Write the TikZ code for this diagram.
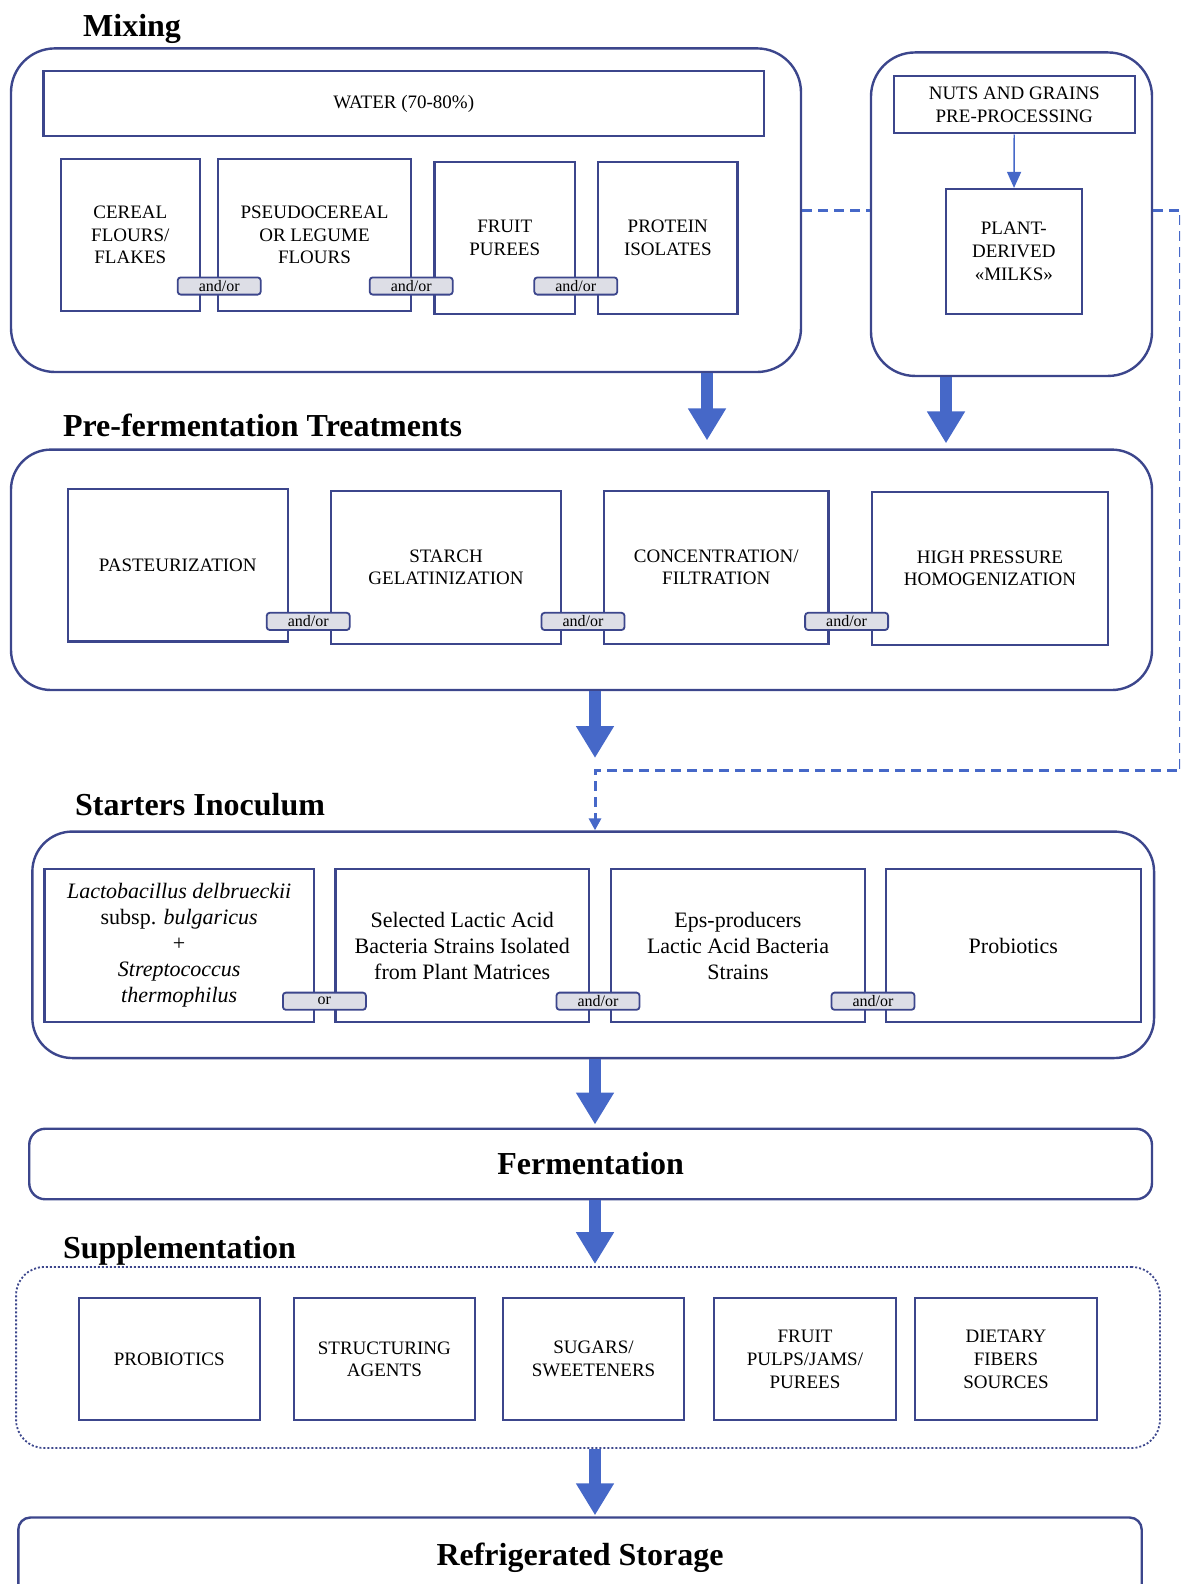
\documentclass[tikz,border=0pt]{standalone}
\usepackage{fontspec}
\setmainfont{Liberation Serif}
\usetikzlibrary{arrows.meta}
\definecolor{boxline}{RGB}{60,70,140}
\definecolor{flowblue}{RGB}{70,104,200}
\definecolor{tagfill}{RGB}{221,222,230}
\begin{document}
\begin{tikzpicture}[x=1pt,y=-1pt,
	stage/.style={draw=boxline,line width=1.2pt,rounded corners=#1},
	stage/.default=20pt,
	item/.style={draw=boxline,line width=1.1pt,fill=white,align=center,inner sep=0pt,font=\fontsize{9.5}{11.4}\selectfont},
	strain/.style={item,font=\fontsize{11}{13}\selectfont},
	tag/.style={draw=boxline,line width=0.9pt,fill=tagfill,rounded corners=1.5pt,minimum width=41.5pt,minimum height=8.6pt,inner sep=0pt,font=\fontsize{8}{8}\selectfont},
	heading/.style={font=\fontsize{16}{18}\selectfont\bfseries},
	title/.style={heading,inner sep=0pt,anchor=base west},
	flow/.style={draw=flowblue,line width=6pt,-{Triangle[width=18pt,length=16pt]}},
	link/.style={draw=flowblue,line width=1.5pt,dash pattern=on 5pt off 3pt}]
				\clip (0,0) rectangle (590,792);
				\coordinate (mixdown) at (353.5,0);
				\coordinate (plantdown) at (473,0);
				\coordinate (maindown) at (297.5,0);
				
				\node[title] (mixhead) at (41.4,18.2) {Mixing};
				\node[stage=22pt,minimum width=395pt,minimum height=161.8pt] (mix) at (203,105.1) {};
				\node[item,minimum width=360.3pt,minimum height=32.8pt] (water) at (201.85,51.8) {WATER (70-80\%)};
				\node[item,minimum width=69.7pt,minimum height=76.2pt] (cereal) at (65.15,117.4) {CEREAL\\FLOURS/\\FLAKES};
				\node[item,minimum width=96.5pt,minimum height=76.2pt] (pseudo) at (157.25,117.4) {PSEUDOCEREAL\\OR LEGUME\\FLOURS};
				\node[item,minimum width=70.3pt,minimum height=76.2pt] (fruit) at (252.35,118.9) {FRUIT\\PUREES};
				\node[item,minimum width=69.75pt,minimum height=76.2pt] (protein) at (333.9,118.9) {PROTEIN\\ISOLATES};
				\node[tag] (tagi) at (109.6,143) {and/or};
				\node[tag] (tagii) at (205.6,143) {and/or};
				\node[tag] (tagiii) at (287.9,143) {and/or};
				
				\node[stage=22pt,minimum width=140.5pt,minimum height=161.75pt] (plantbox) at (505.75,107.1) {};
				\node[item,minimum width=120.3pt,minimum height=28.8pt] (nuts) at (507.15,52.3) {NUTS AND GRAINS\\PRE-PROCESSING};
				\node[item,minimum width=68.2pt,minimum height=62.5pt] (milks) at (506.9,125.75) {PLANT-\\DERIVED\\«MILKS»};
				\draw[flowblue,line width=0.7pt,-{Triangle[width=7pt,length=8pt]}] (nuts) -- (milks);
				
				\node[title] (prehead) at (31.3,218.3) {Pre-fermentation Treatments};
				\node[stage=20pt,minimum width=570.5pt,minimum height=120.2pt] (pre) at (290.75,284.9) {};
				\node[item,minimum width=110.1pt,minimum height=76.25pt] (past) at (88.9,282.6) {PASTEURIZATION};
				\node[item,minimum width=114.65pt,minimum height=76.3pt] (starch) at (223,283.65) {STARCH\\GELATINIZATION};
				\node[item,minimum width=112.2pt,minimum height=76.3pt] (conc) at (358.1,283.65) {CONCENTRATION/\\FILTRATION};
				\node[item,minimum width=118pt,minimum height=76.3pt] (hph) at (495,284.15) {HIGH PRESSURE\\HOMOGENIZATION};
				\node[tag] (tagiv) at (154.1,310.7) {and/or};
				\node[tag] (tagv) at (291.5,310.7) {and/or};
				\node[tag] (tagvi) at (423.3,310.7) {and/or};
				
				\node[title] (starthead) at (37.4,407.7) {Starters Inoculum};
				\node[stage=20pt,minimum width=560.85pt,minimum height=113.25pt] (starters) at (296.6,472.4) {};
				\node[strain,minimum width=134.75pt,minimum height=76.5pt] (lacto) at (89.6,472.75) {\textit{Lactobacillus delbrueckii}\\subsp. \textit{bulgaricus}\\+\\\textit{Streptococcus}\\\textit{thermophilus}};
				\node[strain,minimum width=126.8pt,minimum height=76.5pt] (selected) at (231.1,472.75) {Selected Lactic Acid\\Bacteria Strains Isolated\\from Plant Matrices};
				\node[strain,minimum width=127pt,minimum height=76.5pt] (eps) at (369,472.75) {Eps-producers\\Lactic Acid Bacteria\\Strains};
				\node[strain,minimum width=127.3pt,minimum height=76.5pt] (probio) at (506.65,472.75) {Probiotics};
				\node[tag] (tagvii) at (162.2,500.6) {or};
				\node[tag] (tagviii) at (299,500.6) {and/or};
				\node[tag] (tagix) at (436.5,500.6) {and/or};
				
				\node[stage=8pt,heading,minimum width=561.35pt,minimum height=35.25pt] (ferment) at (295.3,582) {Fermentation};
				
				\node[title] (supphead) at (31.3,629) {Supplementation};
				\node[draw=boxline,line width=0.9pt,dash pattern=on 1pt off 1pt,rounded corners=14pt,minimum width=571.9pt,minimum height=90.5pt] (supp) at (294,678.75) {};
				\node[item,line width=1pt,minimum width=90.4pt,minimum height=61.25pt] (probiotics) at (84.6,679.6) {PROBIOTICS};
				\node[item,line width=1pt,minimum width=90.4pt,minimum height=61.25pt] (struct) at (192.2,679.6) {STRUCTURING\\AGENTS};
				\node[item,line width=1pt,minimum width=90.5pt,minimum height=61.25pt] (sugars) at (296.75,679.6) {SUGARS/\\SWEETENERS};
				\node[item,line width=1pt,minimum width=91pt,minimum height=61.25pt] (pulps) at (402.5,679.6) {FRUIT\\PULPS/JAMS/\\PUREES};
				\node[item,line width=1pt,minimum width=91pt,minimum height=61.25pt] (fibers) at (503,679.6) {DIETARY\\FIBERS\\SOURCES};
				
				\node[stage=6pt,heading,minimum width=561.7pt,minimum height=40pt] (store) at (290,778.75) {Refrigerated Storage};
				
				\coordinate (preout) at (297.5,379);
				\coordinate (turn) at (590.3,385.4);
				\draw[flow,shorten >=4pt] (mix.south -| mixdown) -- (pre.north -| mixdown);
				\draw[flow,shorten >=2.5pt] (plantbox.south -| plantdown) -- (pre.north -| plantdown);
				\draw[flow] (pre.south -| maindown) -- (preout);
				\draw[flow,shorten >=1.5pt] (starters.south -| maindown) -- (ferment.north -| maindown);
				\draw[flow,shorten >=1pt] (ferment.south -| maindown) -- (supp.north -| maindown);
				\draw[flow,shorten >=0.5pt] (supp.south -| maindown) -- (store.north -| maindown);
				
				\draw[link] (mix.east) -- (mix.east -| plantbox.west);
				\draw[link,-{Triangle[width=6pt,length=6pt]}] (plantbox.east |- mix.east) -| (turn) -| (starters.north -| maindown);
			\end{tikzpicture}
\end{document}
